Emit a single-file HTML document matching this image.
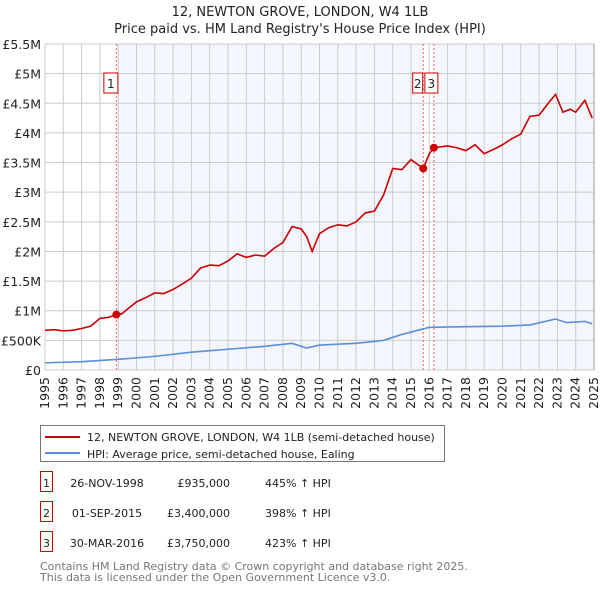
<!DOCTYPE html>
<html><head><meta charset="utf-8"><style>
body{margin:0;background:#fff;font-family:"DejaVu Sans","Liberation Sans",sans-serif;}
svg text{font-family:"DejaVu Sans","Liberation Sans",sans-serif;}
</style></head><body>
<svg width="600" height="590" xmlns="http://www.w3.org/2000/svg">
<g id="root"></g>
</svg>
<script>
const yearTicks=[1995,1996,1997,1998,1999,2000,2001,2002,2003,2004,2005,2006,2007,2008,2009,2010,2011,2012,2013,2014,2015,2016,2017,2018,2019,2020,2021,2022,2023,2024,2025];
const yTicks=[0,0.5,1,1.5,2,2.5,3,3.5,4,4.5,5,5.5];
const yTickLabels=["£0","£500K","£1M","£1.5M","£2M","£2.5M","£3M","£3.5M","£4M","£4.5M","£5M","£5.5M"];
const redX=[1995,1995.5,1996,1996.5,1997,1997.5,1998,1998.5,1998.9,1999.2,1999.6,2000,2000.5,2001,2001.5,2002,2002.5,2003,2003.5,2004,2004.5,2005,2005.5,2006,2006.5,2007,2007.5,2008,2008.5,2009,2009.3,2009.6,2010,2010.5,2011,2011.5,2012,2012.5,2013,2013.5,2014,2014.5,2015,2015.67,2016,2016.25,2017,2017.5,2018,2018.5,2019,2019.5,2020,2020.5,2021,2021.5,2022,2022.5,2022.9,2023.3,2023.7,2024,2024.5,2024.9];
const redY=[0.67,0.68,0.66,0.67,0.70,0.74,0.87,0.89,0.935,0.95,1.05,1.15,1.22,1.30,1.29,1.36,1.45,1.55,1.72,1.77,1.76,1.84,1.96,1.90,1.94,1.92,2.05,2.15,2.42,2.38,2.25,2.00,2.30,2.40,2.45,2.43,2.50,2.65,2.68,2.95,3.40,3.38,3.55,3.40,3.65,3.75,3.78,3.75,3.70,3.80,3.65,3.72,3.80,3.90,3.98,4.28,4.30,4.50,4.65,4.35,4.40,4.35,4.55,4.25];
const blueX=[1995,1997,1999,2001,2003,2005,2007,2008.5,2009.3,2010,2012,2013.5,2014.5,2015.5,2016,2018,2020,2021.5,2022.9,2023.5,2024.5,2024.9];
const blueY=[0.12,0.14,0.18,0.23,0.30,0.35,0.40,0.45,0.37,0.42,0.45,0.50,0.60,0.68,0.72,0.73,0.74,0.76,0.86,0.80,0.82,0.78];
const saleX=[1998.9,2015.67,2016.25];
const saleY=[0.935,3.40,3.75];
const saleLabels=["1","2","3"];
const rowDates=["26-NOV-1998","01-SEP-2015","30-MAR-2016"];
const rowPrices=["£935,000","£3,400,000","£3,750,000"];
const rowHpi=["445% ↑ HPI","398% ↑ HPI","423% ↑ HPI"];

const L=45,R=594,T=44,B=370;
const xs=v=>L+(v-1995)/30*(R-L);
const ys=v=>B-v/5.5*(B-T);
const NS="http://www.w3.org/2000/svg";
const root=document.getElementById('root');
function mk(tag,attrs,parent,text){const e=document.createElementNS(NS,tag);for(const k in attrs)e.setAttribute(k,attrs[k]);if(text!==undefined)e.textContent=text;(parent||root).appendChild(e);return e;}

let t=mk('text',{x:300,y:16,'text-anchor':'middle','font-size':13,fill:'#222'},root,"12, NEWTON GROVE, LONDON, W4 1LB");

t=mk('text',{x:300,y:33,'text-anchor':'middle','font-size':13,fill:'#222'},root,"Price paid vs. HM Land Registry's House Price Index (HPI)");


let bg=mk('rect',{x:L,y:T,width:R-L,height:B-T,fill:'#fff'});

let sh=mk('rect',{x:xs(saleX[0]),y:T,width:xs(saleX[1])-xs(saleX[0]),height:B-T,fill:'#f3f6fd'});

sh=mk('rect',{x:xs(saleX[2]),y:T,width:R-xs(saleX[2]),height:B-T,fill:'#f3f6fd'});


yearTicks.forEach(y=>{let l=mk('line',{x1:xs(y),x2:xs(y),y1:T,y2:B,stroke:'#ccc','stroke-width':1});

let tx=mk('text',{x:0,y:0,transform:`translate(${xs(y)+4},377) rotate(-90)`,'text-anchor':'end','font-size':12.5,fill:'#222'},root,String(y));
});
yTicks.forEach((v,i)=>{let l=mk('line',{x1:L,x2:R,y1:ys(v),y2:ys(v),stroke:'#ccc','stroke-width':1});

let tx=mk('text',{x:41,y:ys(v)+5,'text-anchor':'end','font-size':12.5,fill:'#222'},root,yTickLabels[i]);
});
let rb=mk('line',{x1:R,x2:R,y1:T,y2:B,stroke:'#999','stroke-width':1});


saleX.forEach((x,i)=>{let l=mk('line',{x1:xs(x),x2:xs(x),y1:T,y2:B,stroke:'#e66','stroke-width':1,'stroke-dasharray':'2,2'});
});

let bp=mk('polyline',{points:blueX.map((x,i)=>xs(x)+','+ys(blueY[i])).join(' '),fill:'none',stroke:'#5b8fd6','stroke-width':1.6});

let rp=mk('polyline',{points:redX.map((x,i)=>xs(x)+','+ys(redY[i])).join(' '),fill:'none',stroke:'#cc0000','stroke-width':1.6});


const boxOff=[-12.5,-10.6,-9];
const boxW=[14,10,13];
saleX.forEach((x,i)=>{let c=mk('circle',{cx:xs(x),cy:ys(saleY[i]),r:4,fill:'#cc0000'});

let g=mk('g',{});

const bxx=xs(x)+boxOff[i],w=boxW[i];
mk('rect',{x:bxx,y:73,width:w,height:20,fill:'#fff',stroke:'#cc0000'},g);
mk('text',{x:bxx+w/2,y:88,'text-anchor':'middle','font-size':12,fill:'#222'},g,saleLabels[i]);});

let lg=mk('g',{});
mk('rect',{x:40.5,y:425.5,width:404,height:36,fill:'#fff',stroke:'#777'},lg);
mk('line',{x1:45,x2:80,y1:437,y2:437,stroke:'#cc0000','stroke-width':2},lg);
mk('line',{x1:45,x2:80,y1:453,y2:453,stroke:'#5b8fd6','stroke-width':2},lg);
t=mk('text',{x:87,y:441,'font-size':11,fill:'#222'},lg,"12, NEWTON GROVE, LONDON, W4 1LB (semi-detached house)");

t=mk('text',{x:87,y:458,'font-size':11,fill:'#222'},lg,"HPI: Average price, semi-detached house, Ealing");


saleLabels.forEach((s,i)=>{const y=483+i*30;let g=mk('g',{});

mk('rect',{x:40.5,y:y-11.5,width:12,height:20,fill:'#fff',stroke:'#cc0000'},g);
mk('text',{x:46.5,y:y+4,'text-anchor':'middle','font-size':11,fill:'#222'},g,s);
mk('text',{x:107,y:y+4,'text-anchor':'middle','font-size':11,fill:'#222'},g,rowDates[i]);
mk('text',{x:230,y:y+4,'text-anchor':'end','font-size':11,fill:'#222'},g,rowPrices[i]);
mk('text',{x:265,y:y+4,'font-size':11,fill:'#222'},g,rowHpi[i]);});

t=mk('text',{x:40,y:570,'font-size':11,fill:'#777'},root,"Contains HM Land Registry data © Crown copyright and database right 2025.");

t=mk('text',{x:40,y:581,'font-size':11,fill:'#777'},root,"This data is licensed under the Open Government Licence v3.0.");

</script>
</body></html>
